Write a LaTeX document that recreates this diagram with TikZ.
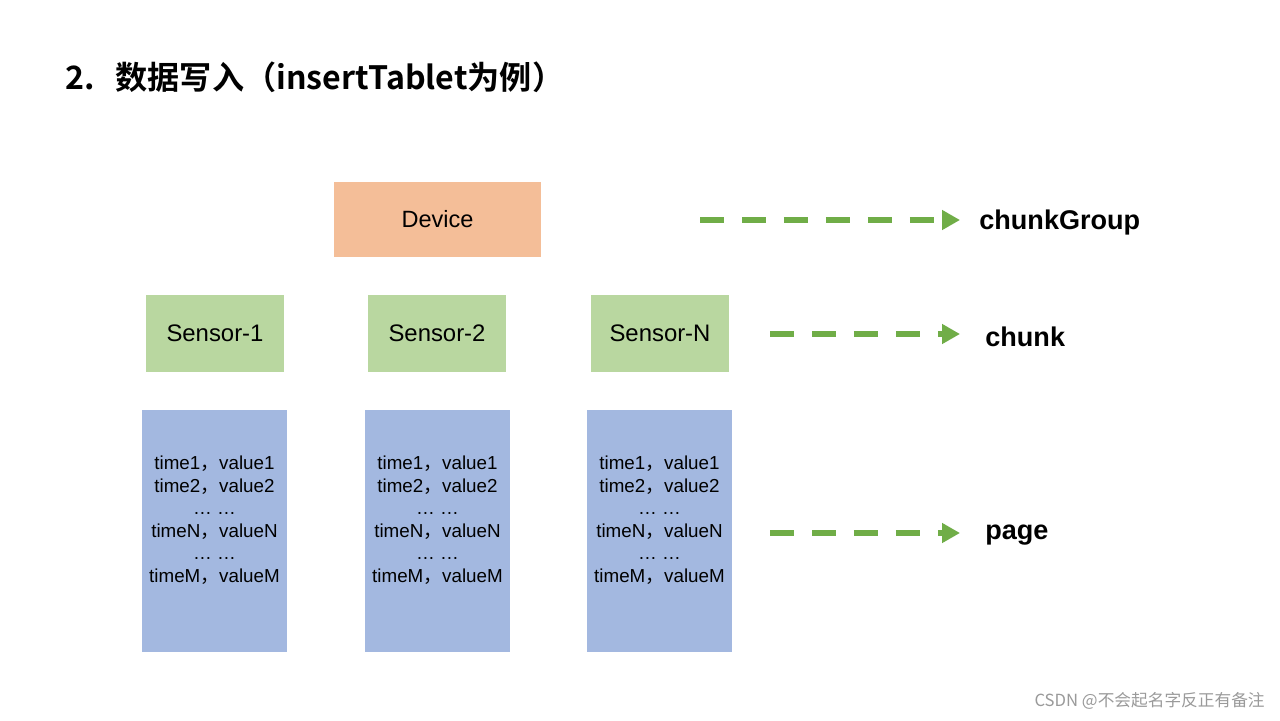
\documentclass[tikz,border=0pt]{standalone}
\usepackage{fontspec}
\setmainfont{Liberation Sans}
\newfontfamily\cjk{Noto Sans CJK SC}
\newfontfamily\cjkbold{Noto Sans CJK SC Bold}
\usetikzlibrary{arrows.meta}
\definecolor{devfill}{HTML}{F4BE98}
\definecolor{senfill}{HTML}{B9D7A0}
\definecolor{pagefill}{HTML}{A3B8E0}
\definecolor{arrgreen}{HTML}{70AD47}
\definecolor{wmgray}{HTML}{9A9A9A}
\tikzset{
  devbox/.style={fill=devfill, draw=none, minimum width=4.14cm, minimum height=1.5cm, inner sep=0pt, font=\fontsize{13.4}{15}\selectfont},
  senbox/.style={fill=senfill, draw=none, minimum width=2.76cm, minimum height=1.54cm, inner sep=0pt, font=\fontsize{13.6}{15}\selectfont},
  pagebox/.style={fill=pagefill, draw=none, minimum width=2.9cm, minimum height=4.84cm, inner sep=0pt},
  rowtxt/.style={align=center, inner sep=0pt, font=\fontsize{10.7}{12.8}\selectfont},
  dasharrow/.style={draw=arrgreen, line width=0.12cm, dash pattern=on 0.48cm off 0.36cm, -{Triangle[length=0.36cm, width=0.38cm]}},
  lbl/.style={anchor=west, inner sep=0pt, font=\fontsize{15.4}{17}\selectfont\bfseries},
}
\newcommand{\cm}{{\cjk ，}}
\newcommand{\rowsTxt}{time1\cm value1\\time2\cm value2\\… …\\timeN\cm valueN\\… …\\timeM\cm valueM}
\begin{document}
\begin{tikzpicture}[x=0.02cm, y=-0.02cm]
\useasboundingbox[fill=white] (0,0) rectangle (1280,720);
% title
\node[anchor=west, inner sep=0pt, font=\fontsize{18.3}{20}\selectfont\cjkbold] (title) at (65,77) {2.\hspace{0.65em}数据写入（insertTablet为例）};
% device
\node[devbox] (dev) at (437.5,219.5) {Device};
% sensors
\node[senbox] (s1) at (215,333.5) {Sensor-1};
\node[senbox] (s2) at (437,333.5) {Sensor-2};
\node[senbox] (sn) at (660,333.5) {Sensor-N};
% pages
\node[pagebox] (p1) at (214.5,531) {};
\node[pagebox] (p2) at (437.5,531) {};
\node[pagebox] (p3) at (659.5,531) {};
\node[rowtxt] (t1) at (214.5,520) {\rowsTxt};
\node[rowtxt] (t2) at (437.5,520) {\rowsTxt};
\node[rowtxt] (t3) at (659.5,520) {\rowsTxt};
% labels
\node[lbl] (lg) at (979,222) {chunkGroup};
\node[lbl] (lc) at (985,337) {chunk};
\node[lbl] (lp) at (985,535) {page};
% arrows
\coordinate (ag) at (700,220);
\coordinate (ac) at (770,334);
\coordinate (ap) at (770,533);
\coordinate (eg) at (960,220);
\coordinate (ec) at (960,334);
\coordinate (ep) at (960,533);
\draw[dasharrow] (ag) -- (eg);
\draw[dasharrow] (ac) -- (ec);
\draw[dasharrow] (ap) -- (ep);
% watermark
\node[anchor=east, inner sep=0pt, text=wmgray, font=\fontsize{9.5}{11}\selectfont\cjk] (wm) at (1265,701) {CSDN @不会起名字反正有备注};
\end{tikzpicture}
\end{document}
